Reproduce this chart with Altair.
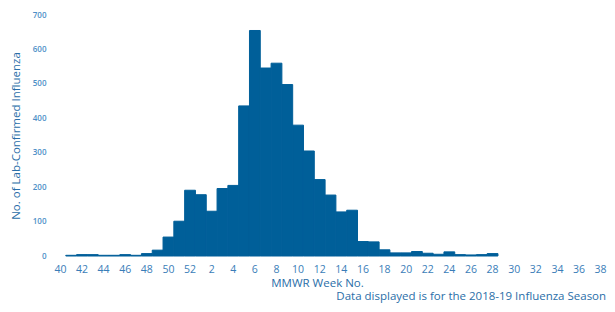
import altair as alt
import pandas as pd

weeks = list(range(40, 53)) + list(range(1, 39))
counts = [None, 2, 4, 4, 2, 2, 4, 2, 7, 17, 55, 101, 191,
          178, 130, 196, 205, 436, 655, 546, 560, 498, 380, 305, 222, 177, 128,
          133, 42, 41, 18, 9, 9, 13, 8, 5, 12, 4, 3, 4, 7,
          None, None, None, None, None, None, None, None, None, None]
tick_weeks = [40, 42, 44, 46, 48, 50, 52, 2, 4, 6, 8, 10, 12, 14, 16, 18, 20,
              22, 24, 26, 28, 30, 32, 34, 36, 38]
y_ticks = [0, 100, 200, 300, 400, 500, 600, 700]

week_labels = [str(w) for w in weeks]
df = pd.DataFrame({"week": week_labels, "count": counts})

FONT = "Open Sans"
BAR = "#005f99"
chart = alt.Chart(df).mark_bar(color=BAR, stroke=BAR, strokeWidth=1).encode(
    x=alt.X(
        "week:N",
        scale=alt.Scale(domain=week_labels, paddingInner=0, paddingOuter=0),
        axis=alt.Axis(
            values=[str(w) for w in tick_weeks],
            labelAngle=0,
            ticks=False,
            domain=False,
            labelFont=FONT,
            labelFontSize=10.5,
            labelColor="#3a7db8",
            labelPadding=8,
            title="MMWR Week No.",
            titleFont=FONT,
            titleFontSize=11.5,
            titleFontWeight="normal",
            titleColor="#2a6ea8",
            titleX=262,
            titlePadding=3,
        ),
    ),
    y=alt.Y(
        "count:Q",
        scale=alt.Scale(domain=[0, 700]),
        axis=alt.Axis(
            values=y_ticks,
            grid=False,
            ticks=False,
            domain=False,
            labelFont=FONT,
            labelFontSize=8,
            labelFontWeight=600,
            labelColor="#4d8fc7",
            labelPadding=9,
            title="No. of Lab-Confirmed Influenza",
            titleFont=FONT,
            titleFontSize=11.5,
            titleFontWeight="normal",
            titleColor="#2a6ea8",
            titlePadding=11,
        ),
    ),
).properties(
    width=551,
    height=241,
    autosize="none",
    padding={"left": 47, "top": 7, "right": 1, "bottom": 48},
    title=alt.TitleParams(
        text="Data displayed is for the 2018-19 Influenza Season",
        orient="bottom",
        anchor="end",
        font=FONT,
        fontSize=11.5,
        fontWeight="normal",
        color="#2a6ea8",
        offset=2,
    ),
).configure_view(stroke=None)

chart.save("out.html", embed_options={"renderer": "svg", "actions": False})
